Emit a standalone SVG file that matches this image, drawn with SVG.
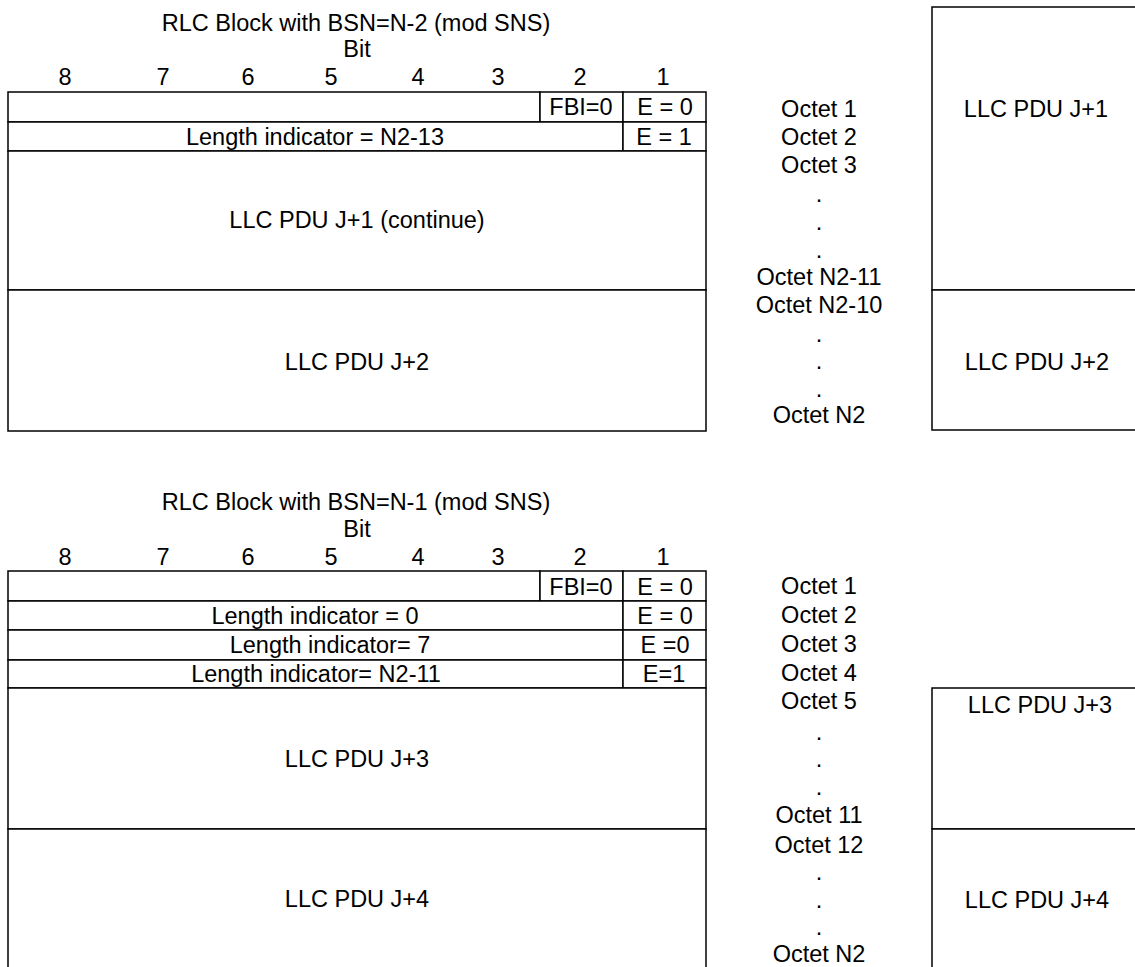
<svg xmlns="http://www.w3.org/2000/svg" width="1135" height="967" viewBox="0 0 1135 967">
<style>
.c{fill:#fff;stroke:#000;stroke-width:1.5}
text{font-family:"Liberation Sans",Arial,sans-serif;font-size:23.5px;fill:#000;text-anchor:middle}
</style>
<rect width="1135" height="967" fill="#fff"/>
<g id="block1-header">
<text x="356" y="31">RLC Block with BSN=N-2 (mod SNS)</text>
<text x="357" y="57">Bit</text>
<text x="65" y="85">8</text><text x="163" y="85">7</text><text x="248" y="85">6</text><text x="331" y="85">5</text>
<text x="418" y="85">4</text><text x="498" y="85">3</text><text x="580" y="85">2</text><text x="663" y="85">1</text>
</g>
<g id="b1-r1-empty"><rect class="c" x="8" y="92" width="532" height="30"/></g>
<g id="b1-r1-fbi"><rect class="c" x="540" y="92" width="83" height="30"/><text x="581" y="115">FBI=0</text></g>
<g id="b1-r1-e"><rect class="c" x="623" y="92" width="83" height="30"/><text x="665" y="115">E = 0</text></g>
<g id="b1-r2-li"><rect class="c" x="8" y="122" width="615" height="29"/><text x="315" y="145">Length indicator = N2-13</text></g>
<g id="b1-r2-e"><rect class="c" x="623" y="122" width="83" height="29"/><text x="664" y="145">E = 1</text></g>
<g id="b1-pdu1"><rect class="c" x="8" y="151" width="698" height="139"/><text x="357" y="228">LLC PDU J+1 (continue)</text></g>
<g id="b1-pdu2"><rect class="c" x="8" y="290" width="698" height="141"/><text x="357" y="370">LLC PDU J+2</text></g>
<g id="b1-octets">
<text x="819" y="117">Octet 1</text><text x="819" y="145">Octet 2</text><text x="819" y="173">Octet 3</text>
<text x="819" y="202">.</text><text x="819" y="230">.</text><text x="819" y="258">.</text>
<text x="819" y="285">Octet N2-11</text><text x="819" y="313">Octet N2-10</text>
<text x="819" y="342">.</text><text x="819" y="369">.</text><text x="819" y="397">.</text>
<text x="819" y="423">Octet N2</text>
</g>
<g id="b1-right-j1"><rect class="c" x="932" y="7" width="230" height="283"/><text x="1036" y="117">LLC PDU J+1</text></g>
<g id="b1-right-j2"><rect class="c" x="932" y="290" width="230" height="140"/><text x="1037" y="370">LLC PDU J+2</text></g>

<g id="block2-header">
<text x="356" y="510">RLC Block with BSN=N-1 (mod SNS)</text>
<text x="357" y="537">Bit</text>
<text x="65" y="565">8</text><text x="163" y="565">7</text><text x="248" y="565">6</text><text x="331" y="565">5</text>
<text x="418" y="565">4</text><text x="498" y="565">3</text><text x="580" y="565">2</text><text x="663" y="565">1</text>
</g>
<g id="b2-r1-empty"><rect class="c" x="8" y="571" width="532" height="30"/></g>
<g id="b2-r1-fbi"><rect class="c" x="540" y="571" width="83" height="30"/><text x="581" y="595">FBI=0</text></g>
<g id="b2-r1-e"><rect class="c" x="623" y="571" width="83" height="30"/><text x="665" y="595">E = 0</text></g>
<g id="b2-r2-li"><rect class="c" x="8" y="601" width="615" height="29"/><text x="315" y="624">Length indicator = 0</text></g>
<g id="b2-r2-e"><rect class="c" x="623" y="601" width="83" height="29"/><text x="665" y="624">E = 0</text></g>
<g id="b2-r3-li"><rect class="c" x="8" y="630" width="615" height="30"/><text x="330" y="653">Length indicator= 7</text></g>
<g id="b2-r3-e"><rect class="c" x="623" y="630" width="83" height="30"/><text x="665" y="653">E =0</text></g>
<g id="b2-r4-li"><rect class="c" x="8" y="660" width="615" height="28"/><text x="316" y="682">Length indicator= N2-11</text></g>
<g id="b2-r4-e"><rect class="c" x="623" y="660" width="83" height="28"/><text x="664" y="682">E=1</text></g>
<g id="b2-pdu3"><rect class="c" x="8" y="688" width="698" height="141"/><text x="357" y="767">LLC PDU J+3</text></g>
<g id="b2-pdu4"><rect class="c" x="8" y="829" width="698" height="160"/><text x="357" y="907">LLC PDU J+4</text></g>
<g id="b2-octets">
<text x="819" y="594">Octet 1</text><text x="819" y="623">Octet 2</text><text x="819" y="652">Octet 3</text>
<text x="819" y="681">Octet 4</text><text x="819" y="709">Octet 5</text>
<text x="819" y="740">.</text><text x="819" y="767">.</text><text x="819" y="795">.</text>
<text x="819" y="823">Octet 11</text><text x="819" y="853">Octet 12</text>
<text x="819" y="880">.</text><text x="819" y="908">.</text><text x="819" y="935">.</text>
<text x="819" y="962">Octet N2</text>
</g>
<g id="b2-right-j3"><rect class="c" x="932" y="688" width="230" height="141"/><text x="1040" y="713">LLC PDU J+3</text></g>
<g id="b2-right-j4"><rect class="c" x="932" y="829" width="230" height="160"/><text x="1037" y="908">LLC PDU J+4</text></g>
<g id="connectors"/>
</svg>
